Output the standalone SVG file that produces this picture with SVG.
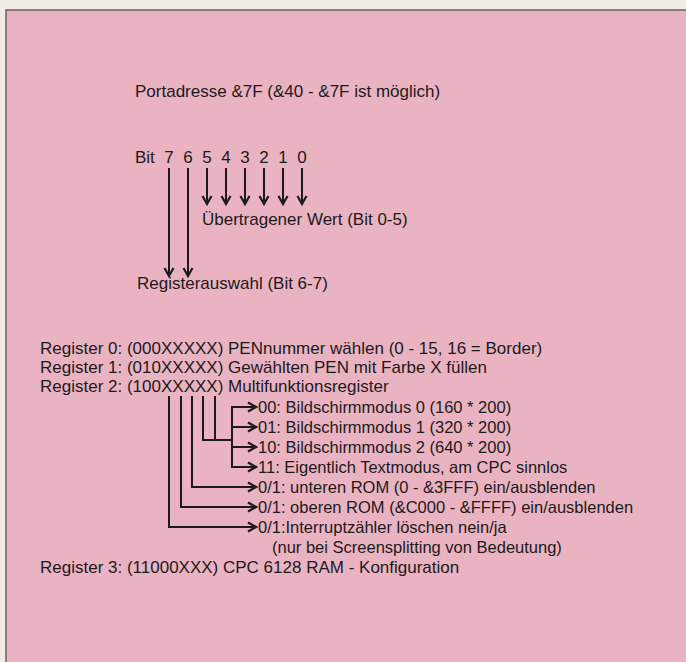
<svg xmlns="http://www.w3.org/2000/svg" width="686" height="662" viewBox="0 0 686 662">
<style>
text{font-family:"Liberation Sans",Arial,sans-serif;fill:#1e1a1c;font-size:17px}
.o{font-size:16.5px}
.c{fill:none;stroke:#1e1a1c;stroke-width:2}
</style>
<defs>
<marker id="ah" viewBox="-10 -6 12 12" markerWidth="12" markerHeight="12" refX="0" refY="0" markerUnits="userSpaceOnUse" orient="auto">
<path d="M-8,-4.5 L0,0 L-8,4.5" fill="none" stroke="#1e1a1c" stroke-width="2.2"/>
</marker>
</defs>
<rect x="0" y="0" width="686" height="662" fill="#f1ece4"/>
<rect x="6" y="10" width="690" height="662" fill="#e9b3c1"/>
<path d="M6,662 L6,10 L686,10" fill="none" stroke="#6a6266" stroke-width="1.5"/>
<g id="title"><text x="135" y="97">Portadresse &amp;7F (&amp;40 - &amp;7F ist möglich)</text></g>
<g id="bits">
<text x="135" y="163">Bit</text>
<text x="169" y="163" text-anchor="middle">7</text>
<text x="188" y="163" text-anchor="middle">6</text>
<text x="207" y="163" text-anchor="middle">5</text>
<text x="226" y="163" text-anchor="middle">4</text>
<text x="245" y="163" text-anchor="middle">3</text>
<text x="264" y="163" text-anchor="middle">2</text>
<text x="283" y="163" text-anchor="middle">1</text>
<text x="302" y="163" text-anchor="middle">0</text>
</g>
<g id="wert"><text x="202" y="225">Übertragener Wert (Bit 0-5)</text></g>
<g id="auswahl"><text x="137" y="289">Registerauswahl (Bit 6-7)</text></g>
<g id="register0"><text x="40" y="354">Register 0: (000XXXXX) PENnummer wählen (0 - 15, 16 = Border)</text></g>
<g id="register1"><text x="40" y="373">Register 1: (010XXXXX) Gewählten PEN mit Farbe X füllen</text></g>
<g id="register2"><text x="40" y="392">Register 2: (100XXXXX) Multifunktionsregister</text></g>
<g id="register3"><text x="40" y="573">Register 3: (11000XXX) CPC 6128 RAM - Konfiguration</text></g>
<g id="opt00"><text class="o" x="258" y="413">00: Bildschirmmodus 0 (160 * 200)</text></g>
<g id="opt01"><text class="o" x="258" y="433">01: Bildschirmmodus 1 (320 * 200)</text></g>
<g id="opt10"><text class="o" x="258" y="453">10: Bildschirmmodus 2 (640 * 200)</text></g>
<g id="opt11"><text class="o" x="258" y="473">11: Eigentlich Textmodus, am CPC sinnlos</text></g>
<g id="unteren"><text class="o" x="258" y="493">0/1: unteren ROM (0 - &amp;3FFF) ein/ausblenden</text></g>
<g id="oberen"><text class="o" x="258" y="513">0/1: oberen ROM (&amp;C000 - &amp;FFFF) ein/ausblenden</text></g>
<g id="interrupt">
<text class="o" x="258" y="533">0/1:Interruptzähler löschen nein/ja</text>
<text class="o" x="272" y="553">(nur bei Screensplitting von Bedeutung)</text>
</g>
<g id="connectors">
<path class="c" d="M169,168 V276" marker-end="url(#ah)"/>
<path class="c" d="M188,168 V276" marker-end="url(#ah)"/>
<path class="c" d="M207,168 V204" marker-end="url(#ah)"/>
<path class="c" d="M226,168 V204" marker-end="url(#ah)"/>
<path class="c" d="M245,168 V204" marker-end="url(#ah)"/>
<path class="c" d="M264,168 V204" marker-end="url(#ah)"/>
<path class="c" d="M283,168 V204" marker-end="url(#ah)"/>
<path class="c" d="M302,168 V204" marker-end="url(#ah)"/>
<path class="c" d="M203,396 V440 H232 M215,396 V440"/>
<path class="c" d="M232,406 V468"/>
<path class="c" d="M231,407 H256" marker-end="url(#ah)"/>
<path class="c" d="M232,427 H256" marker-end="url(#ah)"/>
<path class="c" d="M232,447 H256" marker-end="url(#ah)"/>
<path class="c" d="M231,467 H256" marker-end="url(#ah)"/>
<path class="c" d="M192,396 V487 H256" marker-end="url(#ah)"/>
<path class="c" d="M181,396 V507 H256" marker-end="url(#ah)"/>
<path class="c" d="M169,396 V527 H256" marker-end="url(#ah)"/>
</g>
</svg>
